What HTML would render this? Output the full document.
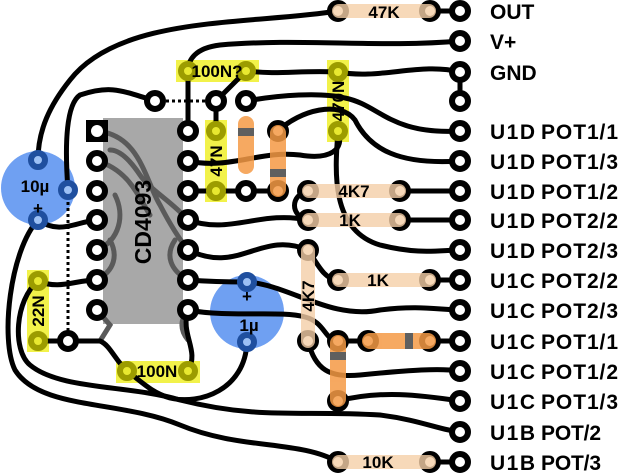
<!DOCTYPE html>
<html><head><meta charset="utf-8"><style>
html,body{margin:0;padding:0;background:#fff;width:624px;height:473px;overflow:hidden}
svg{display:block}
.w{fill:none;stroke:#000;stroke-width:5;stroke-linecap:round}
.g{fill:none;stroke:#5a5a5a;stroke-width:5;stroke-linecap:round}
.p{fill:#fff;stroke:#000;stroke-width:6}
.yp{fill:#e8e830;stroke:#9c9c00;stroke-width:6}
.bp{fill:#9cc0f5;stroke:#1f4f9f;stroke-width:6}
.lbl{font-family:"Liberation Sans Narrow","Liberation Sans",sans-serif;font-weight:bold;font-size:21px;fill:#000}
.sm{font-family:"Liberation Sans Narrow","Liberation Sans",sans-serif;font-weight:bold;font-size:17px;fill:#000}
</style></head><body>
<svg width="624" height="473" viewBox="0 0 624 473">
<circle cx="38" cy="188" r="37" fill="#6fa0f2"/>
<circle cx="247" cy="312" r="37" fill="#6fa0f2"/>
<rect x="103" y="118" width="80" height="206" fill="#a8a8a8"/>
<path class="g" d="M97,131 C140,135 145,180 160,205 C172,228 180,240 188,250"/>
<path class="g" d="M97,161 C130,170 140,200 150,215"/>
<path class="g" d="M188,220 C170,200 150,190 140,175 C130,160 120,150 110,150"/>
<path class="g" d="M97,250 C120,240 125,215 115,195"/>
<path class="g" d="M97,280 C115,270 118,255 110,240"/>
<path class="g" d="M188,280 C170,270 165,255 175,240"/>
<path class="g" d="M100,341 L110,325 L97,310"/>
<path class="g" d="M188,310 C180,320 180,330 188,340"/>
<rect x="176" y="60" width="83" height="22" fill="#f2f24a"/>
<rect x="205" y="120" width="22" height="82" fill="#f2f24a"/>
<rect x="327" y="60" width="22" height="82" fill="#f2f24a"/>
<rect x="27" y="270" width="22" height="82" fill="#f2f24a"/>
<rect x="116" y="361" width="84" height="22" fill="#f2f24a"/>
<path d="M160,101 L210,101" stroke="#000" stroke-width="3" stroke-dasharray="3,3"/>
<path d="M68,196 L68,335" stroke="#000" stroke-width="3" stroke-dasharray="3,3"/>
<path class="w" d="M338,11 C250,25 120,15 70,80 C50,105 38,130 38,160"/>
<path class="w" d="M460,41 C380,48 300,38 220,45 C195,48 188,60 188,71 L188,131"/>
<path class="w" d="M246,71 C280,75 300,70 338,72 C380,80 420,62 460,72 L460,101"/>
<path class="w" d="M246,71 L216,101 L216,131"/>
<path class="w" d="M246,101 C280,95 320,92 345,98 C380,105 390,135 460,131"/>
<path class="w" d="M460,161 C400,165 370,150 355,120 C340,100 300,110 278,131"/>
<path class="w" d="M188,161 C230,170 260,150 300,155 C330,160 345,150 338,131"/>
<path class="w" d="M338,131 C335,170 330,230 380,245 C420,255 440,250 460,250"/>
<path class="w" d="M460,191 L400,191"/>
<path class="w" d="M308,191 C290,195 290,216 308,220"/>
<path class="w" d="M400,220 L460,220"/>
<path class="w" d="M188,191 L278,191"/>
<path class="w" d="M188,220 C230,235 260,210 308,220"/>
<path class="w" d="M188,250 C240,275 260,230 308,250 C318,265 325,280 338,280"/>
<path class="w" d="M430,280 L460,280"/>
<path class="w" d="M188,280 C215,282 230,282 247,282 C290,285 330,320 380,310 C420,305 440,310 460,310"/>
<path class="w" d="M188,310 C230,318 280,310 305,317 C325,322 325,341 338,341 L368,341"/>
<path class="w" d="M430,341 L460,341"/>
<path class="w" d="M308,341 C315,370 330,378 360,375 C410,370 440,368 460,371"/>
<path class="w" d="M338,401 C380,390 420,395 460,401"/>
<path class="w" d="M247,342 C245,390 200,405 170,398 C150,392 140,380 127,371"/>
<path class="w" d="M188,371 C200,350 180,335 188,310"/>
<path class="w" d="M68,341 L100,341 C110,345 115,360 127,371"/>
<path class="w" d="M38,341 L68,341"/>
<path class="w" d="M38,281 C60,290 75,280 97,280"/>
<path class="w" d="M38,220 C60,235 75,222 97,220"/>
<path class="w" d="M38,281 C15,300 12,350 30,365 C60,390 130,385 180,400 C260,420 300,410 380,415 C420,420 440,430 460,432"/>
<path class="w" d="M38,220 C10,250 0,340 15,370 C40,410 120,400 180,425 C240,450 300,440 338,462"/>
<path class="w" d="M430,462 L460,462"/>
<path class="w" d="M430,11 L460,11"/>
<path class="w" d="M155,101 C120,90 110,85 80,95 C65,105 65,150 68,190"/>
<g class="p">
<circle cx="460" cy="11" r="8"/><circle cx="460" cy="41" r="8"/><circle cx="460" cy="72" r="8"/><circle cx="460" cy="101" r="8"/>
<circle cx="460" cy="131" r="8"/><circle cx="460" cy="161" r="8"/><circle cx="460" cy="191" r="8"/><circle cx="460" cy="220" r="8"/>
<circle cx="460" cy="250" r="8"/><circle cx="460" cy="280" r="8"/><circle cx="460" cy="310" r="8"/><circle cx="460" cy="341" r="8"/>
<circle cx="460" cy="371" r="8"/><circle cx="460" cy="401" r="8"/><circle cx="460" cy="432" r="8"/><circle cx="460" cy="462" r="8"/>
<circle cx="338" cy="11" r="8"/><circle cx="430" cy="11" r="8"/>
<circle cx="308" cy="191" r="8"/><circle cx="400" cy="191" r="8"/><circle cx="308" cy="220" r="8"/><circle cx="400" cy="220" r="8"/>
<circle cx="338" cy="280" r="8"/><circle cx="430" cy="280" r="8"/><circle cx="338" cy="462" r="8"/><circle cx="430" cy="462" r="8"/>
<circle cx="308" cy="250" r="8"/><circle cx="308" cy="341" r="8"/>
<circle cx="338" cy="341" r="8"/><circle cx="368" cy="341" r="8"/><circle cx="430" cy="341" r="8"/><circle cx="338" cy="401" r="8"/>
<circle cx="278" cy="131" r="8"/><circle cx="278" cy="191" r="8"/><circle cx="246" cy="191" r="8"/>
<circle cx="155" cy="101" r="8"/><circle cx="216" cy="101" r="8"/><circle cx="246" cy="101" r="8"/>
<circle cx="68" cy="341" r="8"/>
<circle cx="97" cy="161" r="8"/><circle cx="97" cy="191" r="8"/><circle cx="97" cy="220" r="8"/><circle cx="97" cy="250" r="8"/><circle cx="97" cy="280" r="8"/><circle cx="97" cy="310" r="8"/>
<circle cx="188" cy="131" r="8"/><circle cx="188" cy="161" r="8"/><circle cx="188" cy="191" r="8"/><circle cx="188" cy="220" r="8"/><circle cx="188" cy="250" r="8"/><circle cx="188" cy="280" r="8"/><circle cx="188" cy="310" r="8"/>
</g>
<rect x="86" y="120" width="22" height="22" fill="#000"/><circle cx="97" cy="131" r="6" fill="#fff"/>
<g fill="#f5cfa8" opacity="0.8">
<rect x="332" y="4" width="104" height="14" rx="7"/>
<rect x="302" y="184" width="104" height="14" rx="7"/>
<rect x="302" y="213" width="104" height="14" rx="7"/>
<rect x="332" y="273" width="104" height="14" rx="7"/>
<rect x="332" y="455" width="104" height="14" rx="7"/>
<rect x="301" y="244" width="14" height="104" rx="7"/>
</g>
<g fill="#f59a45" opacity="0.85">
<rect x="238" y="116" width="16" height="58" rx="8"/>
<rect x="270" y="125" width="16" height="72" rx="8"/>
<rect x="362" y="333" width="74" height="16" rx="8"/>
<rect x="330" y="335" width="16" height="72" rx="8"/>
</g>
<g fill="#5f5f5f">
<rect x="238" y="128" width="16" height="8"/>
<rect x="270" y="169" width="16" height="8"/>
<rect x="405" y="333" width="8" height="16"/>
<rect x="330" y="352" width="16" height="8"/>
</g>
<g class="yp">
<circle cx="188" cy="71" r="7"/><circle cx="246" cy="71" r="7"/>
<circle cx="216" cy="131" r="7"/><circle cx="216" cy="191" r="7"/>
<circle cx="338" cy="72" r="7"/><circle cx="338" cy="131" r="7"/>
<circle cx="38" cy="281" r="7"/><circle cx="38" cy="341" r="7"/>
<circle cx="127" cy="371" r="7"/><circle cx="188" cy="371" r="7"/>
</g>
<g class="bp">
<circle cx="38" cy="160" r="7"/><circle cx="68" cy="190" r="7"/><circle cx="38" cy="220" r="7"/>
<circle cx="247" cy="282" r="7"/><circle cx="247" cy="342" r="7"/>
</g>
<text class="sm" x="384" y="18" text-anchor="middle">47K</text>
<text class="sm" x="354" y="197" text-anchor="middle">4K7</text>
<text class="sm" x="350" y="226" text-anchor="middle">1K</text>
<text class="sm" x="378" y="286" text-anchor="middle">1K</text>
<text class="sm" x="378" y="468" text-anchor="middle">10K</text>
<text class="sm" x="217" y="77" text-anchor="middle">100N?</text>
<text class="sm" x="157" y="377" text-anchor="middle">100N</text>
<text class="sm" transform="translate(314,296) rotate(-90)" text-anchor="middle">4K7</text>
<text class="sm" transform="translate(222,161) rotate(-90)" text-anchor="middle">47N</text>
<text class="sm" transform="translate(344,101) rotate(-90)" text-anchor="middle">470N</text>
<text class="sm" transform="translate(44,311) rotate(-90)" text-anchor="middle">22N</text>
<text class="lbl" transform="translate(151,222) rotate(-90)" text-anchor="middle" style="font-size:23px">CD4093</text>
<text class="sm" x="35" y="192" text-anchor="middle">10µ</text>
<text class="sm" x="38" y="214" text-anchor="middle">+</text>
<text class="sm" x="247" y="302" text-anchor="middle">+</text>
<text class="sm" x="249" y="331" text-anchor="middle">1µ</text>
<g class="lbl">
<text x="490" y="19">OUT</text>
<text x="490" y="49">V+</text>
<text x="490" y="80">GND</text>
<text x="490" y="139" textLength="45">U1D</text><text x="541" y="139" textLength="77">POT1/1</text>
<text x="490" y="169" textLength="45">U1D</text><text x="541" y="169" textLength="77">POT1/3</text>
<text x="490" y="199" textLength="45">U1D</text><text x="541" y="199" textLength="77">POT1/2</text>
<text x="490" y="228" textLength="45">U1D</text><text x="541" y="228" textLength="77">POT2/2</text>
<text x="490" y="258" textLength="45">U1D</text><text x="541" y="258" textLength="77">POT2/3</text>
<text x="490" y="288" textLength="45">U1C</text><text x="541" y="288" textLength="77">POT2/2</text>
<text x="490" y="318" textLength="45">U1C</text><text x="541" y="318" textLength="77">POT2/3</text>
<text x="490" y="349" textLength="45">U1C</text><text x="541" y="349" textLength="77">POT1/1</text>
<text x="490" y="379" textLength="45">U1C</text><text x="541" y="379" textLength="77">POT1/2</text>
<text x="490" y="409" textLength="45">U1C</text><text x="541" y="409" textLength="77">POT1/3</text>
<text x="490" y="440" textLength="45">U1B</text><text x="541" y="440" textLength="60">POT/2</text>
<text x="490" y="470" textLength="45">U1B</text><text x="541" y="470" textLength="60">POT/3</text>
</g>
</svg>
</body></html>
